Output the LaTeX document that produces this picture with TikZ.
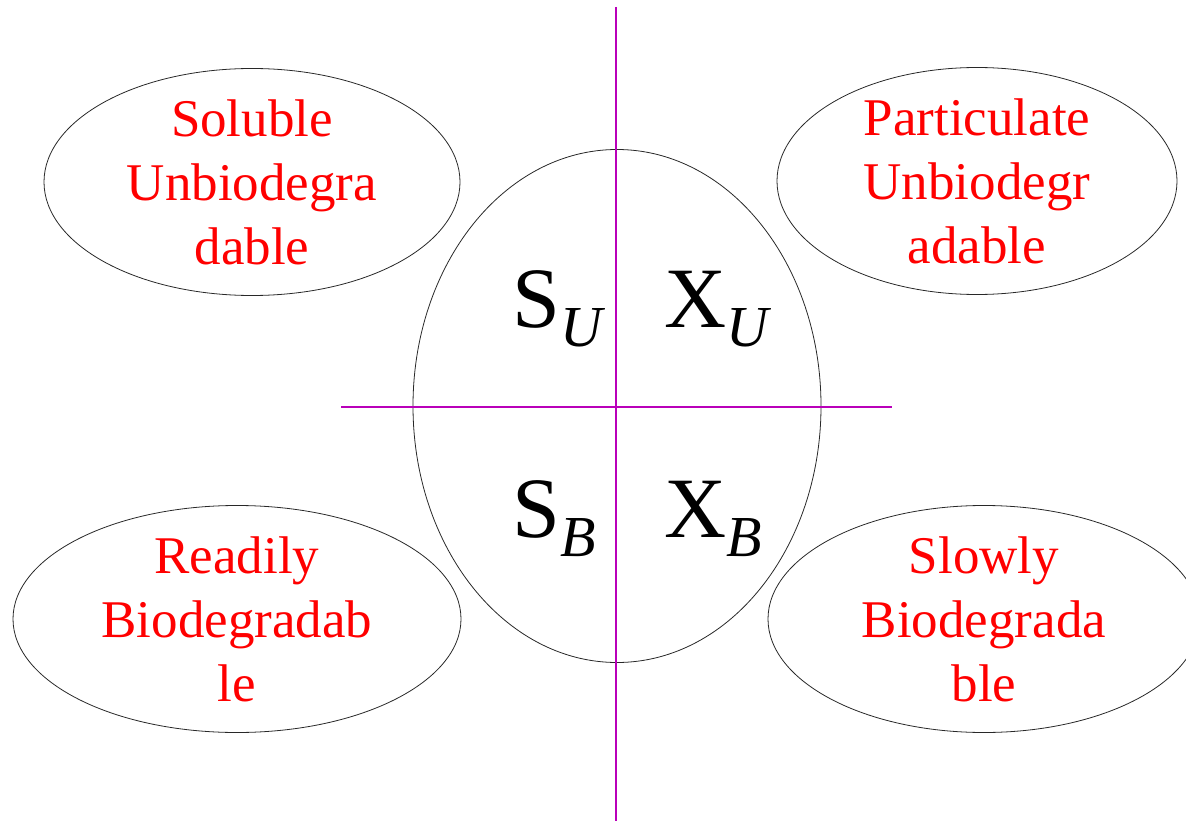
\documentclass[tikz,border=0pt]{standalone}
\usepackage{fontspec}
\setmainfont{Liberation Serif}
\usepackage{xcolor}
\usetikzlibrary{shapes.geometric}
\definecolor{axiscol}{RGB}{185,0,185}
\definecolor{rimcol}{RGB}{40,40,40}
\newcommand{\subsc}[1]{\raisebox{-19pt}{\fontsize{58}{58}\selectfont\itshape #1}}
\tikzset{
  grp/.style={draw=rimcol,ellipse,line width=0.8pt,inner sep=0pt},
  cls/.style={align=center,text=red,font=\fontsize{53}{64}\selectfont,inner sep=0pt},
  sym/.style={anchor=base west,inner sep=0pt,font=\fontsize{86}{86}\selectfont},
  ax/.style={draw=axiscol,line width=1.2pt},
}

\begin{document}
\begin{tikzpicture}[x=1pt,y=-1pt]
  \useasboundingbox (0,0) rectangle (1186,821);
  % central split
  \node[grp,minimum width=408pt,minimum height=513pt] (core) at (617,406) {};
  \coordinate (vtop) at (616,7);
  \coordinate (vbot) at (616,821);
  \coordinate (hlft) at (341,407);
  \coordinate (hrgt) at (892,407);
  \draw[ax] (vtop) -- (vbot);
  \draw[ax] (hlft) -- (hrgt);
  \node[sym] (su) at (512,327) {S\subsc{U}};
  \node[sym] (xu) at (664,327) {X\subsc{U}};
  \node[sym] (sb) at (512,537) {S\subsc{B}};
  \node[sym] (xb) at (664,537) {X\subsc{B}};
  % fractions
  \node[grp,minimum width=416pt,minimum height=227pt] (su_e) at (252,182) {};
  \node[cls] (su_t) at (su_e) {Soluble\\Unbiodegra\\dable};
  \node[grp,minimum width=400pt,minimum height=227pt] (xu_e) at (977,181) {};
  \node[cls] (xu_t) at (xu_e) {Particulate\\Unbiodegr\\adable};
  \node[grp,minimum width=448pt,minimum height=227pt] (sb_e) at (237,619) {};
  \node[cls] (sb_t) at (sb_e) {Readily\\Biodegradab\\le};
  \node[grp,minimum width=432pt,minimum height=227pt] (xb_e) at (984,619) {};
  \node[cls] (xb_t) at (xb_e) {Slowly\\Biodegrada\\ble};
\end{tikzpicture}
\end{document}
